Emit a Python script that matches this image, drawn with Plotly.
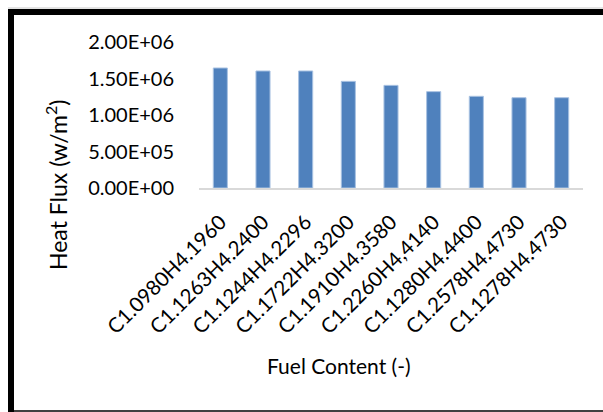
import plotly.graph_objects as go

# Fuel compositions and the heat flux measured for each
fuel_labels = [
    "C1.0980H4.1960", "C1.1263H4.2400", "C1.1244H4.2296", "C1.1722H4.3200",
    "C1.1910H4.3580", "C1.2260H4,4140", "C1.1280H4.4400", "C1.2578H4.4730",
    "C1.1278H4.4730",
]
heat_flux = [1.644e6, 1.603e6, 1.603e6, 1.461e6, 1.406e6, 1.320e6, 1.256e6, 1.237e6, 1.237e6]
y_ticks = [0, 5e5, 1e6, 1.5e6, 2e6]
y_tick_text = ["0.00E+00", "5.00E+05", "1.00E+06", "1.50E+06", "2.00E+06"]

W, H = 603, 412
L, R, T, B = 199, 583, 42, 188  # plot area in pixels
FONT = "Lato"


def px(x):
    return (x - L) / (R - L)


def py(y):
    return (B - y) / (B - T)


fig = go.Figure(go.Bar(
    x=fuel_labels,
    y=heat_flux,
    marker=dict(color="#4f81bd", line=dict(color="#a9c2e2", width=1)),
))

shapes = [
    # outer frame: thick top and left edges, thin bottom edge
    dict(type="line", xref="paper", yref="paper", x0=px(8), x1=px(603), y0=py(8), y1=py(8),
         line=dict(color="#c8c8c8", width=1)),
    dict(type="line", xref="paper", yref="paper", x0=px(8), x1=px(603), y0=py(12), y1=py(12),
         line=dict(color="black", width=6)),
    dict(type="line", xref="paper", yref="paper", x0=px(11), x1=px(11), y0=py(9), y1=py(412),
         line=dict(color="black", width=6)),
    dict(type="line", xref="paper", yref="paper", x0=px(14), x1=px(603), y0=py(411), y1=py(411),
         line=dict(color="#404040", width=2)),
]

annotations = [
    dict(text="Heat Flux (w/m<sup>2</sup>)", xref="paper", yref="paper",
         x=px(56), y=py(185), xanchor="center", yanchor="middle",
         textangle=-90, showarrow=False,
         font=dict(family=FONT, size=23, color="black")),
    dict(text="Fuel Content (-)", xref="paper", yref="paper",
         x=px(339), y=py(365), xanchor="center", yanchor="middle", showarrow=False,
         font=dict(family=FONT, size=21, color="black")),
]

fig.update_layout(
    width=W, height=H,
    margin=dict(l=L, r=W - R, t=T, b=H - B, pad=0),
    paper_bgcolor="white", plot_bgcolor="white",
    bargap=0.67,
    showlegend=False,
    shapes=shapes,
    annotations=annotations,
    font=dict(family=FONT, size=20, color="black"),
)
fig.update_xaxes(
    tickangle=-45, showline=True, linecolor="#d9d9d9", linewidth=2,
    showgrid=False, ticks="", ticklabelstandoff=12,
    tickfont=dict(family=FONT, size=20.5, color="black"),
)
fig.update_yaxes(
    range=[0, 2e6], tickvals=y_ticks, ticktext=y_tick_text,
    showgrid=False, zeroline=False, showline=False, ticks="",
    ticklabelstandoff=24,
    tickfont=dict(family=FONT, size=20, color="black"),
)

fig.write_html("out.html")
